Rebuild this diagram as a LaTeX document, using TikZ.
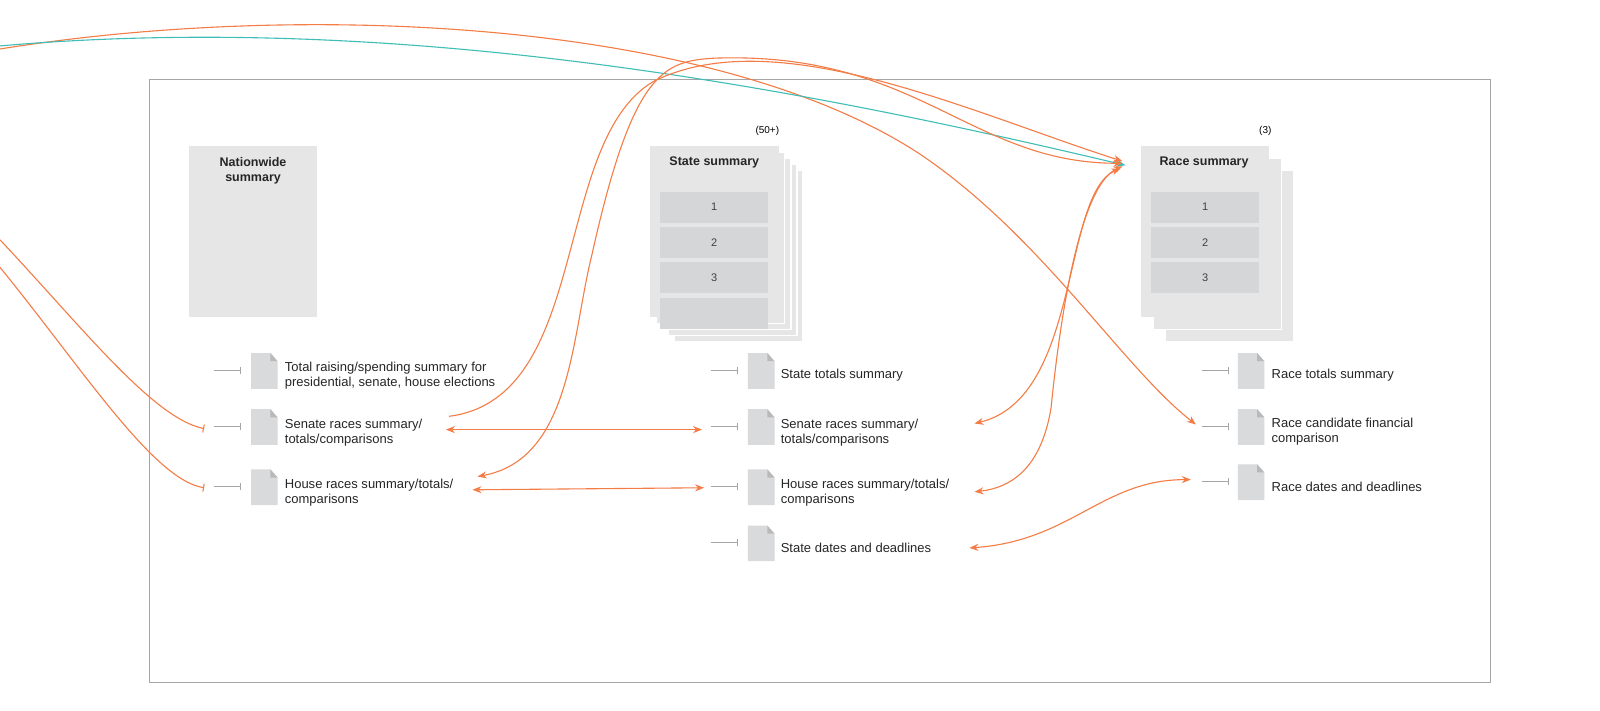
\documentclass[tikz,border=0pt]{standalone}
\usepackage{fontspec}
\setmainfont{Liberation Sans}
\usetikzlibrary{arrows.meta}
\definecolor{og}{HTML}{F47C45}
\definecolor{tl}{HTML}{3FBDB6}
\definecolor{pg}{HTML}{E6E6E6}
\definecolor{rw}{HTML}{D5D6D8}
\definecolor{ic}{HTML}{D9DADC}
\tikzset{
 oline/.style={draw=og,line width=1.1pt},
 oarr/.style={oline,-{Stealth[length=9pt,width=7pt]}},
 darr/.style={oline,{Stealth[length=9pt,width=7pt]}-{Stealth[length=9pt,width=7pt]}},
 stub/.style={draw=gray!70,line width=0.9pt,-{Bar[width=7pt]}},
 lbl/.style={anchor=west,align=left,font=\fontsize{13}{15}\selectfont,text=black!85,inner sep=0pt},
 ttl/.style={font=\bfseries\fontsize{12.5}{15}\selectfont,text=black!85,align=center},
 page/.style={fill=pg,draw=white,line width=1.5pt},
 rowb/.style={fill=rw,font=\fontsize{11}{13}\selectfont,text=black!75},
}
\newcommand{\docicon}[3]{% name, x, y (top-left)
 \fill[ic] (#2,#3) -- (#2+19,#3) -- (#2+26,#3+8) -- (#2+26,#3+35) -- (#2,#3+35) -- cycle;
 \fill[gray!55] (#2+19,#3) -- (#2+26,#3+8) -- (#2+19,#3+8) -- cycle;
 \coordinate (#1) at (#2,#3+17);}
\begin{document}
\begin{tikzpicture}[x=1.02pt,y=-1.02pt]
\useasboundingbox (0,0) rectangle (1568,696);
\fill[white] (0,0) rectangle (1568,696);
\draw[gray!70,line width=0.8pt] (146,78) rectangle (1461,669);
% nationwide
\fill[pg] (185,143) rectangle (311,311);
\node[ttl] (nat) at (248,167) {Nationwide\\summary};
% state stack
\foreach \k in {4,3,2,1} {\draw[page] (637+6*\k,143+6*\k) rectangle (763+6*\k,311+6*\k);}
\fill[pg] (637,143) rectangle (763,311);
\node[ttl] (st) at (700,159) {State summary};
\node[font=\fontsize{10}{12}\selectfont] (s50) at (752,128) {(50+)};
\node[rowb,minimum width=108pt,minimum height=31pt] (sr1) at (700,203) {1};
\node[rowb,minimum width=108pt,minimum height=31pt] (sr2) at (700,238) {2};
\node[rowb,minimum width=108pt,minimum height=31pt] (sr3) at (700,272) {3};
\node[rowb,minimum width=108pt,minimum height=31pt] (sr4) at (700,307) {};
% race stack
\foreach \k in {2,1} {\draw[page] (1118+12*\k,143+12*\k) rectangle (1244+12*\k,311+12*\k);}
\fill[pg] (1118,143) rectangle (1244,311);
\node[ttl] (rs) at (1180,159) {Race summary};
\coordinate (rsin) at (1103,162);
\node[font=\fontsize{10}{12}\selectfont] (r3) at (1240,128) {(3)};
\node[rowb,minimum width=108pt,minimum height=31pt] (rr1) at (1181,203) {1};
\node[rowb,minimum width=108pt,minimum height=31pt] (rr2) at (1181,238) {2};
\node[rowb,minimum width=108pt,minimum height=31pt] (rr3) at (1181,272) {3};
% docs nationwide
\docicon{n1}{246}{346}\docicon{n2}{246}{401}\docicon{n3}{246}{460}
\node[lbl] (tn1) at (279,368) {Total raising/spending summary for\\presidential, senate, house elections};
\node[lbl] (tn2) at (279,424) {Senate races summary/\\totals/comparisons};
\node[lbl] (tn3) at (279,483) {House races summary/totals/\\comparisons};
\foreach \y in {363,418,477} {\draw[stub] (210,\y) -- (236,\y);}
% docs state
\docicon{s1}{733}{346}\docicon{s2}{733}{401}\docicon{s3}{733}{460}\docicon{s4}{733}{515}
\node[lbl] (ts1) at (765,368) {State totals summary};
\node[lbl] (ts2) at (765,424) {Senate races summary/\\totals/comparisons};
\node[lbl] (ts3) at (765,483) {House races summary/totals/\\comparisons};
\node[lbl] (ts4) at (765,537) {State dates and deadlines};
\foreach \y in {363,418,477,532} {\draw[stub] (697,\y) -- (723,\y);}
% docs race
\docicon{r1}{1213}{346}\docicon{r2}{1213}{401}\docicon{r3d}{1213}{455}
\node[lbl] (tr1) at (1246,368) {Race totals summary};
\node[lbl] (tr2) at (1246,423) {Race candidate financial\\comparison};
\node[lbl] (tr3) at (1246,477) {Race dates and deadlines};
\foreach \y in {363,418,472} {\draw[stub] (1178,\y) -- (1204,\y);}
% free ends
\coordinate (L1) at (0,235); \coordinate (L2) at (0,262);
\coordinate (L3) at (0,48); \coordinate (L4) at (0,45);
\coordinate (E1) at (200,420); \coordinate (E2) at (200,478);
% orange from left
\draw[oline,-{Bar[width=8pt]}] (L1) .. controls (80,320) and (150,410) .. (E1);
\draw[oline,-{Bar[width=8pt]}] (L2) .. controls (80,360) and (150,470) .. (E2);
\draw[oarr] (L3) .. controls (300,0) and (700,20) .. (900,150) .. controls (1020,230) and (1100,360) .. (1172,416);
\draw[draw=tl,line width=1.1pt,-{Stealth[length=9pt,width=7pt]}] (L4) .. controls (400,10) and (800,90) .. (rsin);
% senate/house to race summary
\draw[oarr] (440,408) .. controls (580,390) and (540,140) .. (640,80) .. controls (760,20) and (950,110) .. (1100,158);
\draw[darr] (468,467) .. controls (560,450) and (560,330) .. (580,250) .. controls (620,70) and (650,60) .. (700,57) .. controls (900,50) and (950,160) .. (1100,160);
% horizontal double arrows
\draw[darr] (437,421) -- (688,421);
\draw[darr] (463,480) -- (690,478);
% race summary to state rows
\draw[darr] (1098,165) .. controls (1040,190) and (1060,390) .. (955,415);
\draw[darr] (1100,163) .. controls (1060,180) and (1040,300) .. (1030,400) .. controls (1020,460) and (990,478) .. (955,482);
\draw[darr] (950,537) .. controls (1050,530) and (1080,470) .. (1167,470);
\end{tikzpicture}
\end{document}
